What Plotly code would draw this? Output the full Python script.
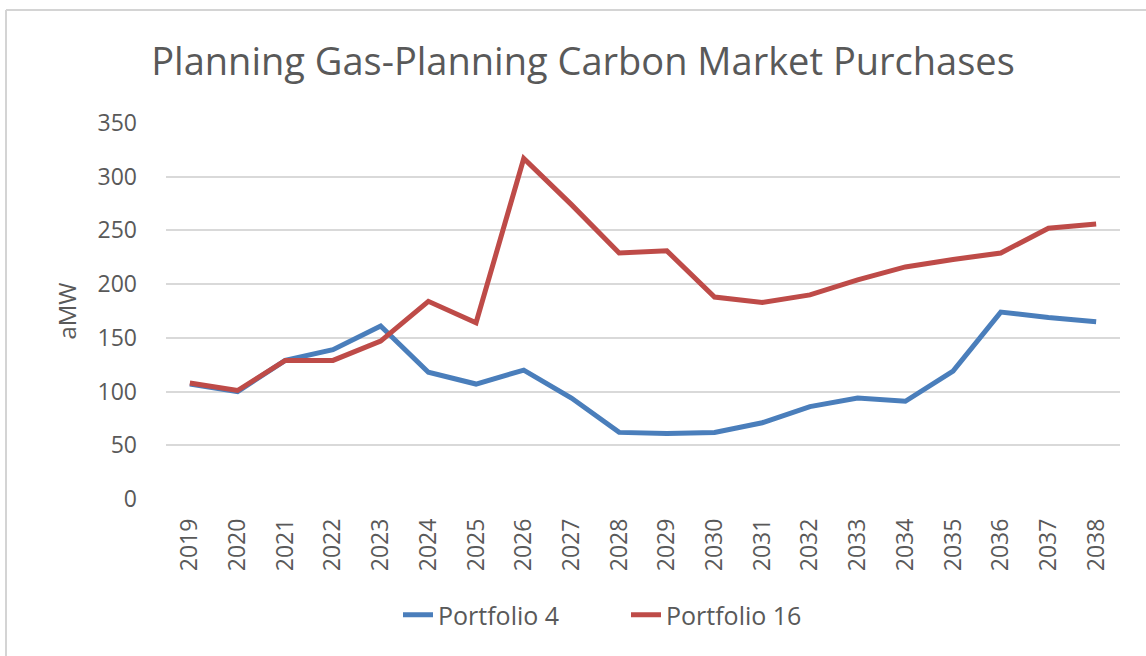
import plotly.graph_objects as go

years = [str(y) for y in range(2019, 2039)]
portfolio_4 = [107, 100, 129, 139, 161, 118, 107, 120, 94, 62, 61, 62, 71, 86, 94, 91, 119, 174, 169, 165]
portfolio_16 = [108, 101, 129, 129, 147, 184, 164, 317, 274, 229, 231, 188, 183, 190, 204, 216, 223, 229, 252, 256]
y_ticks = [0, 50, 100, 150, 200, 250, 300, 350]

W, H = 1146, 656
# target plot area in page pixels: x 166..1120, y 123..499
L, T = 166, 123
R = W - 1120
B = H - 499
pw, ph = W - L - R, H - T - B

def px_x(p):
    return (p - L) / pw

def px_y(p):
    return (H - B - p) / ph

fig = go.Figure()
fig.add_trace(go.Scatter(x=years, y=portfolio_4, mode="lines", name="Portfolio 4",
                         line=dict(color="#4A7EBB", width=5)))
fig.add_trace(go.Scatter(x=years, y=portfolio_16, mode="lines", name="Portfolio 16",
                         line=dict(color="#BE4B48", width=5)))

font_main = "Open Sans, Noto Sans, sans-serif"
fig.update_layout(
    width=W, height=H,
    margin=dict(l=L, r=R, t=T, b=B, autoexpand=False),
    paper_bgcolor="white", plot_bgcolor="white",
    title=dict(text="Planning Gas-Planning Carbon Market Purchases",
               x=583 / W, xanchor="center", y=1 - 62 / H, yanchor="middle",
               font=dict(family=font_main, size=38, color="#595959")),
    xaxis=dict(type="category", range=[-0.5, len(years) - 0.5], tickangle=-90,
               showgrid=False, showline=False, ticks="", ticklabelstandoff=14,
               tickfont=dict(family=font_main, size=23, color="#595959")),
    yaxis=dict(range=[0, 350], tickvals=y_ticks, showgrid=True, gridcolor="#D9D9D9",
               gridwidth=1.5, zeroline=False, showline=False, ticks="",
               ticklabelstandoff=28,
               tickfont=dict(family=font_main, size=23, color="#595959"),
               title=dict(text="aMW", font=dict(family=font_main, size=24, color="#595959"),
                          standoff=14)),
    legend=dict(orientation="h", x=px_x(398), xanchor="left", y=px_y(615), yanchor="middle",
                font=dict(family=font_main, size=25, color="#595959"),
                entrywidth=183, entrywidthmode="pixels",
                traceorder="normal"),
    showlegend=True,
)

# outer chart border (top and left)
fig.add_shape(type="line", xref="paper", yref="paper",
              x0=px_x(6), x1=px_x(W + 20), y0=px_y(10), y1=px_y(10),
              line=dict(color="#D4D4D4", width=2))
fig.add_shape(type="line", xref="paper", yref="paper",
              x0=px_x(6), x1=px_x(6), y0=px_y(10), y1=px_y(H + 20),
              line=dict(color="#D4D4D4", width=2))

fig.write_html("out.html", config={"displayModeBar": False},
               post_script="document.body.style.margin='0px';")
